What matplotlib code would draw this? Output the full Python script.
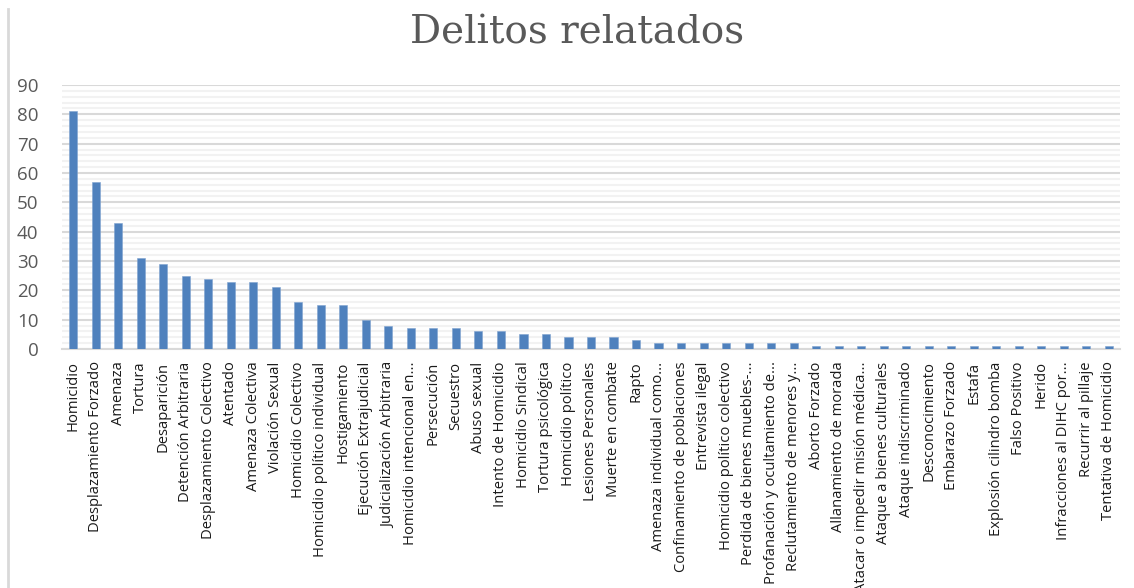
import numpy as np
import matplotlib
matplotlib.use("Agg")
import matplotlib.pyplot as plt
from matplotlib.lines import Line2D

# --- Datos ---
delitos = [
    "Homicidio", "Desplazamiento Forzado", "Amenaza", "Tortura", "Desaparición",
    "Detención Arbitraria", "Desplazamiento Colectivo", "Atentado", "Amenaza Colectiva",
    "Violación Sexual", "Homicidio Colectivo", "Homicidio político individual",
    "Hostigamiento", "Ejecución Extrajudicial", "Judicialización Arbitraria",
    "Homicidio intencional en...", "Persecución", "Secuestro", "Abuso sexual",
    "Intento de Homicidio", "Homicidio Sindical", "Tortura psicológica",
    "Homicidio político", "Lesiones Personales", "Muerte en combate", "Rapto",
    "Amenaza individual como...", "Confinamiento de poblaciones", "Entrevista ilegal",
    "Homicidio político colectivo", "Perdida de bienes muebles-...",
    "Profanación y ocultamiento de...", "Reclutamiento de menores y...",
    "Aborto Forzado", "Allanamiento de morada", "Atacar o impedir misión médica...",
    "Ataque a bienes culturales", "Ataque indiscriminado", "Desconocimiento",
    "Embarazo Forzado", "Estafa", "Explosión cilindro bomba", "Falso Positivo",
    "Herido", "Infracciones al DIHC por...", "Recurrir al pillaje",
    "Tentativa de Homicidio",
]
casos = [81, 57, 43, 31, 29, 25, 24, 23, 23, 21, 16, 15, 15, 10, 8, 7, 7, 7, 6, 6,
         5, 5, 4, 4, 4, 3, 2, 2, 2, 2, 2, 2, 2, 1, 1, 1, 1, 1, 1, 1, 1, 1, 1, 1, 1, 1, 1]

texto_gris = "#595959"

fig = plt.figure(figsize=(11.34, 5.88), dpi=100)
ax = fig.add_axes([62 / 1134, 1 - 349 / 588, (1120 - 62) / 1134, (349 - 85) / 588])

x = np.arange(len(delitos))
ax.bar(x, casos, width=0.36, color="#4f81bd", edgecolor="#7fa3d0", linewidth=0.4, zorder=3)

ax.set_xlim(-0.5, len(delitos) - 0.5)
ax.set_ylim(0, 90)
ax.set_yticks(np.arange(0, 91, 10))
ax.set_yticks(np.arange(0, 91, 2), minor=True)
ax.grid(axis="y", which="major", color="#d9d9d9", linewidth=1.5, zorder=0)
ax.grid(axis="y", which="minor", color="#f2f2f2", linewidth=1.5, zorder=0)

ax.set_xticks(x)
ax.set_xticklabels(delitos, rotation=90, fontsize=10.6, color="#1a1a1a",
                   family=["Open Sans", "DejaVu Sans"])
ax.tick_params(axis="x", length=0, pad=9)
ax.tick_params(axis="y", which="both", length=0, pad=17, labelsize=13.5, labelcolor=texto_gris)
for lab in ax.get_yticklabels():
    lab.set_family(["Open Sans", "DejaVu Sans"])

for s in ["top", "right", "left"]:
    ax.spines[s].set_visible(False)
ax.spines["bottom"].set_color("#d9d9d9")
ax.spines["bottom"].set_linewidth(1.5)

fig.text(577 / 1134, 1 - 33 / 588, "Delitos relatados", ha="center", va="center",
         fontsize=28, color=texto_gris, family=["DejaVu Serif"])

# borde izquierdo del gráfico
fig.add_artist(Line2D([8 / 1134, 8 / 1134], [0, 1 - 9 / 588], color="#d9d9d9", linewidth=2))

fig.savefig("out.png", dpi=100)
